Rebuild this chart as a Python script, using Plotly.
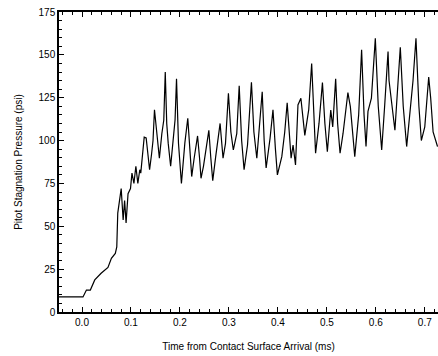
import plotly.graph_objects as go

time_ms = [-0.047, 0.002, 0.009, 0.017, 0.026, 0.039, 0.053, 0.060, 0.068, 0.071, 0.073,
           0.080, 0.084, 0.087, 0.090, 0.094, 0.099, 0.102, 0.106, 0.110, 0.114, 0.118,
           0.120, 0.127, 0.131, 0.138, 0.142, 0.145, 0.148, 0.151, 0.154, 0.158, 0.163, 0.167, 0.170,
           0.173, 0.176, 0.181, 0.186, 0.190, 0.193, 0.197, 0.203, 0.207, 0.210, 0.216, 0.220, 0.224, 0.229, 0.236,
           0.240, 0.243, 0.248, 0.254, 0.259, 0.263, 0.267, 0.273, 0.282, 0.288, 0.293, 0.299, 0.304, 0.309,
           0.316, 0.321, 0.326, 0.331, 0.338, 0.346, 0.351, 0.357, 0.361, 0.368, 0.372, 0.376, 0.384, 0.390,
           0.395, 0.399, 0.408, 0.414, 0.419, 0.427, 0.431, 0.436, 0.441, 0.447, 0.455, 0.463, 0.469,
           0.477, 0.484, 0.491, 0.496, 0.501, 0.508, 0.512, 0.518, 0.522, 0.527, 0.533, 0.543, 0.548,
           0.557, 0.565, 0.571, 0.576, 0.580, 0.584, 0.591, 0.599, 0.605, 0.612, 0.618, 0.625, 0.627, 0.639, 0.650,
           0.656, 0.663, 0.669, 0.676, 0.682, 0.688, 0.693, 0.700, 0.708, 0.712, 0.717, 0.726]
pressure_psi = [8.8, 8.8, 12.8, 12.8, 18.7, 22.6, 26.0, 31.3, 34.2, 38.0, 57.7,
                72.0, 53.7, 65.0, 52.0, 69.0, 72.0, 81.0, 75.0, 85.0, 75.0, 83.0,
                81.0, 102.0, 101.5, 83.0, 92.0, 100.0, 118.0, 108.0, 102.0, 89.7, 104.0, 112.0, 140.0,
                110.0, 98.5, 85.0, 100.0, 112.0, 136.0, 98.4, 75.0, 90.0, 98.5, 113.0, 95.0, 79.0, 89.7, 102.7,
                90.0, 78.0, 85.0, 96.5, 106.0, 90.0, 76.6, 90.6, 110.0, 89.7, 98.4, 127.6, 105.0, 94.5,
                104.0, 132.0, 100.0, 83.0, 97.4, 134.0, 105.0, 89.7, 102.3, 128.5, 100.0, 84.0, 101.3, 118.0,
                95.0, 80.0, 90.6, 105.0, 122.0, 89.7, 97.4, 85.8, 120.8, 124.7, 103.0, 118.0, 145.0,
                92.6, 110.0, 133.8, 110.0, 93.5, 117.8, 108.0, 136.0, 110.0, 92.6, 104.0, 128.0, 119.8,
                90.6, 115.0, 153.0, 115.0, 96.5, 117.0, 124.7, 159.7, 120.0, 94.5, 120.0, 152.0, 135.0, 106.0, 154.4,
                120.0, 96.5, 113.0, 135.0, 159.7, 120.0, 100.0, 108.0, 137.0, 125.0, 105.0, 96.5]

x_ticks = [0.0, 0.1, 0.2, 0.3, 0.4, 0.5, 0.6, 0.7]
x_tick_labels = ["0.0", "0.1", "0.2", "0.3", "0.4", "0.5", "0.6", "0.7"]
y_ticks = [0, 25, 50, 75, 100, 125, 150, 175]

font = "Liberation Sans, Arial, sans-serif"

fig = go.Figure()
fig.add_trace(go.Scatter(x=time_ms, y=pressure_psi, mode="lines",
                         line=dict(color="black", width=1.2), showlegend=False))

fig.update_layout(
    width=438, height=356,
    margin=dict(l=59, r=0, t=12, b=44),
    paper_bgcolor="white", plot_bgcolor="white",
    font=dict(family=font, size=10, color="black"),
)
fig.update_xaxes(
    range=[-0.047, 0.727], tickvals=x_ticks, ticktext=x_tick_labels,
    ticks="inside", ticklen=5, tickwidth=1, tickcolor="black",
    minor=dict(dtick=0.02, tick0=0, ticks="inside", ticklen=3, tickcolor="black"),
    showline=True, linewidth=1.5, linecolor="black", mirror="ticks",
    showgrid=False, zeroline=False,
    title=dict(text="Time from Contact Surface Arrival (ms)", standoff=16,
               font=dict(size=10)),
    tickfont=dict(size=10),
)
fig.update_yaxes(
    range=[0, 175], tickvals=y_ticks,
    ticks="inside", ticklen=5, tickwidth=1, tickcolor="black",
    minor=dict(dtick=5, tick0=0, ticks="inside", ticklen=3, tickcolor="black"),
    showline=True, linewidth=1.5, linecolor="black",
    showgrid=False, zeroline=False,
    title=dict(text="Pitot Stagnation Pressure (psi)", standoff=14,
               font=dict(size=10)),
    tickfont=dict(size=10),
)

fig.write_html("out.html")
